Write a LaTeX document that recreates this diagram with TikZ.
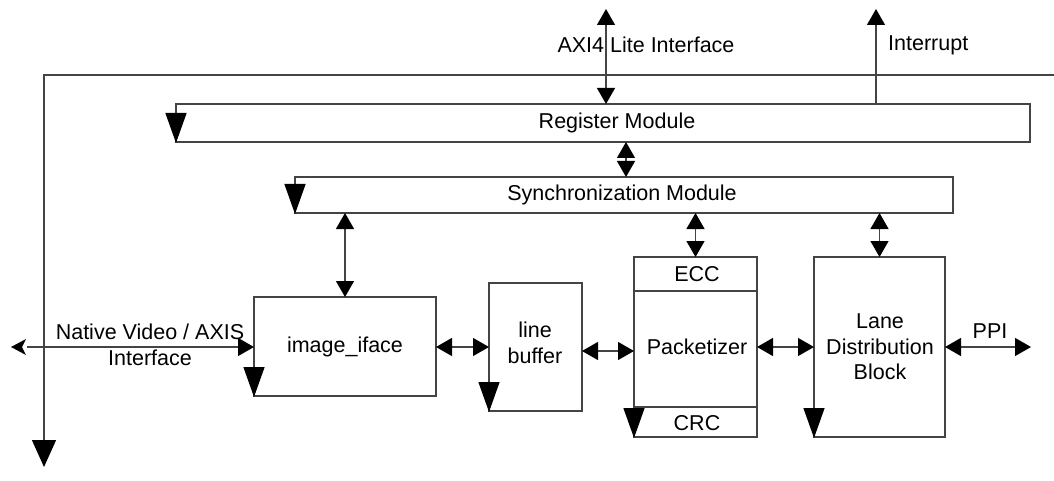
\documentclass[tikz,border=0pt]{standalone}
\usepackage{fontspec}
\setmainfont{Liberation Sans}
\usetikzlibrary{arrows.meta}
\definecolor{ln}{HTML}{444444}
\tikzset{
  blk/.style={draw=ln, line width=1.3pt, inner sep=0pt, outer sep=0pt, fill=white},
  lbl/.style={inner sep=0pt, font=\fontsize{21.5}{25.5}\selectfont, align=center},
  tipc/.tip={Triangle[length=16pt,width=18pt,color=black]},
  tipk/.tip={Triangle[length=30pt,width=21pt,color=black]},
  conn/.style={draw=ln, line width=1.3pt, tipc-tipc},
  uni/.style={draw=ln, line width=1.3pt, -tipc},
  clk/.style={draw=ln, line width=1.3pt, -tipk},
}
\begin{document}
\begin{tikzpicture}[x=1pt,y=-1pt]
\useasboundingbox (0,0) rectangle (1054,481);
% clock line
\coordinate (c1) at (1054,75);
\coordinate (c2) at (44,75);
\coordinate (c3) at (44,467);
\draw[draw=ln, line width=1.3pt, -{Triangle[length=27pt,width=24pt,color=black]}] (c1) -- (c2) -- (c3);
% blocks
\node[blk, minimum width=854pt, minimum height=38pt] (reg) at (603,123) {};
\node[blk, minimum width=658pt, minimum height=36pt] (sync) at (624,195) {};
\node[blk, minimum width=182pt, minimum height=99pt] (img) at (345,346.5) {};
\node[blk, minimum width=93pt, minimum height=128pt] (lb) at (535.5,347) {};
\node[blk, minimum width=123pt, minimum height=180pt] (pkt) at (695.5,347) {};
\node[blk, minimum width=131pt, minimum height=180pt] (lane) at (879.5,347) {};
% packetizer separators
\coordinate (eccy) at (0,291);
\coordinate (crcy) at (0,407);
\draw[draw=ln, line width=1.3pt] (pkt.west |- eccy) -- (pkt.east |- eccy);
\draw[draw=ln, line width=1.3pt] (pkt.west |- crcy) -- (pkt.east |- crcy);
% clock inputs on left edges
\foreach \b in {reg,sync,img,lb,pkt,lane}
  \draw[clk] (\b.north west) -- ([yshift=-1pt]\b.south west);
% labels
\node[lbl] (regt) at (617,123) {Register Module};
\node[lbl] (synct) at (622,195) {Synchronization Module};
\node[lbl] (imgt) at (345,347) {image\_iface};
\node[lbl] (lbt) at (535,343) {line\\buffer};
\node[lbl] (ecct) at (697,274) {ECC};
\node[lbl] (pktt) at (697,347) {Packetizer};
\node[lbl] (crct) at (697,423) {CRC};
\node[lbl] (lanet) at (880,347) {Lane\\Distribution\\Block};
\node[lbl] (axit) at (646,45) {AXI4 Lite Interface};
\node[lbl, anchor=west] (intt) at (888,45) {Interrupt};
\node[lbl] (ppit) at (990,331) {PPI};
\node[lbl] (nvt) at (150,345) {Native Video / AXIS\\Interface};
% external coordinates
\coordinate (axi) at (606,9);
\coordinate (intr) at (876,9);
\coordinate (rs) at (626,0);
\coordinate (ppi) at (1031,347);
\coordinate (nv) at (27,347);
\coordinate (nvtip) at (11,347);
\coordinate (lbp) at (0,351);
% connectors
\draw[conn] (axi) -- (axi |- reg.north);
\draw[uni] (reg.north -| intr) -- (intr);
\draw[conn] (reg.south -| rs) -- (sync.north -| rs);
\draw[conn] (sync.south -| img.north) -- (img.north);
\draw[conn] (sync.south -| pkt.north) -- (pkt.north);
\draw[conn] (sync.south -| lane.north) -- (lane.north);
\draw[conn] (img.east |- lb.west) -- (lb.west);
\draw[conn] (lb.east |- lbp) -- (pkt.west |- lbp);
\draw[conn] (pkt.east |- lane.west) -- (lane.west);
\draw[conn] (lane.east) -- (ppi);
\draw[uni] (nv) -- (img.west |- nv);
\fill[black] (nvtip) -- ++(15,-8) -- ++(-4,8) -- ++(4,8) -- cycle;
\end{tikzpicture}
\end{document}
